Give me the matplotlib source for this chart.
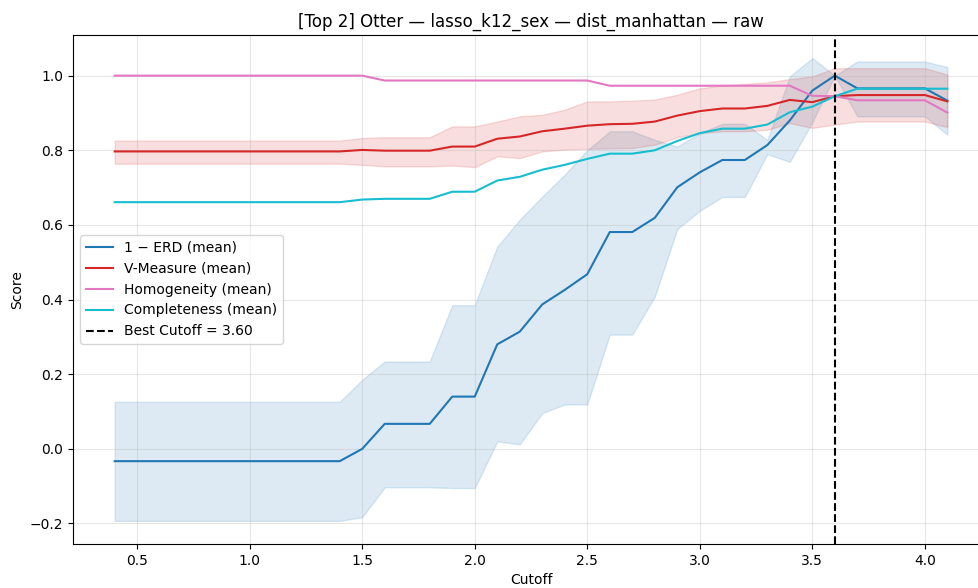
import matplotlib
matplotlib.use("Agg")
import matplotlib.pyplot as plt

cutoff = [0.4, 0.5, 0.6, 0.7, 0.8, 0.9, 1.0, 1.1, 1.2, 1.3, 1.4, 1.5, 1.6, 1.7, 1.8, 1.9,
          2.0, 2.1, 2.2, 2.3, 2.4, 2.5, 2.6, 2.7, 2.8, 2.9, 3.0, 3.1, 3.2, 3.3, 3.4, 3.5,
          3.6, 3.7, 3.8, 3.9, 4.0, 4.1]

erd_mean = [-0.033] * 11 + [0.0] + [0.067] * 3 + [0.14] * 2 + [0.28, 0.314, 0.387, 0.426, 0.468] \
    + [0.581] * 2 + [0.619, 0.701, 0.741] + [0.774] * 2 + [0.814, 0.88, 0.96, 1.0] + [0.966] * 4 + [0.933]
erd_low = [-0.193] * 11 + [-0.183] + [-0.103] * 3 + [-0.105] * 2 + [0.02, 0.012, 0.096, 0.119, 0.119] \
    + [0.306] * 2 + [0.408, 0.589, 0.638] + [0.675] * 2 + [0.79, 0.769, 0.875, 1.0] + [0.891] * 4 + [0.842]
erd_high = [0.126] * 11 + [0.185] + [0.234] * 3 + [0.385] * 2 + [0.542, 0.614, 0.676, 0.735, 0.80] \
    + [0.851] * 2 + [0.828, 0.81, 0.846] + [0.871] * 2 + [0.828, 0.998, 1.047, 1.0] + [1.038] * 4 + [1.023]

vm_mean = [0.797] * 11 + [0.801] + [0.799] * 3 + [0.81] * 2 + [0.831, 0.837, 0.851, 0.858, 0.866, 0.87, 0.871,
          0.877, 0.893, 0.905] + [0.912] * 2 + [0.919, 0.935, 0.929, 0.945] + [0.948] * 4 + [0.931]
vm_low = [0.764] * 11 + [0.761] + [0.757] * 3 + [0.759, 0.755] + [0.784, 0.779, 0.797, 0.802, 0.804, 0.805, 0.806,
         0.815, 0.835, 0.846] + [0.851] * 2 + [0.855, 0.873, 0.86, 0.869] + [0.877] * 4 + [0.862]
vm_high = [0.826] * 11 + [0.833] + [0.835] * 3 + [0.864] * 2 + [0.877, 0.891, 0.895, 0.909, 0.931, 0.931, 0.933,
          0.936, 0.949, 0.966, 0.974, 0.978, 0.982, 0.991, 0.998, 1.02] + [1.02] * 4 + [1.003]

homog = [1.0] * 12 + [0.987] * 10 + [0.973] * 9 + [0.946, 0.945] + [0.934] * 4 + [0.901]

compl = [0.661] * 11 + [0.668] + [0.670] * 3 + [0.689] * 2 + [0.719, 0.729, 0.748, 0.761, 0.777] \
    + [0.791] * 2 + [0.80, 0.825, 0.846] + [0.858] * 2 + [0.869, 0.902, 0.917, 0.945] + [0.965] * 5

best_cutoff = 3.6

fig = plt.figure(figsize=(9.79, 5.88), dpi=100)
ax = fig.add_axes([0.0746, 0.0748, 0.9356, 0.8657])

ax.plot(cutoff, erd_mean, color="tab:blue", lw=1.5, label="1 \u2212 ERD (mean)")
ax.fill_between(cutoff, erd_low, erd_high, color="tab:blue", alpha=0.15, lw=1)
ax.plot(cutoff, vm_mean, color="tab:red", lw=1.5, label="V-Measure (mean)")
ax.fill_between(cutoff, vm_low, vm_high, color="tab:red", alpha=0.15, lw=1)
ax.plot(cutoff, homog, color="tab:pink", lw=1.5, label="Homogeneity (mean)")
ax.plot(cutoff, compl, color="tab:cyan", lw=1.5, label="Completeness (mean)")
ax.axvline(best_cutoff, color="black", ls="--", lw=1.5, label=f"Best Cutoff = {best_cutoff:.2f}")

ax.set_title("[Top 2] Otter \u2014 lasso_k12_sex \u2014 dist_manhattan \u2014 raw")
ax.set_xlabel("Cutoff")
ax.set_ylabel("Score")
ax.grid(True, alpha=0.3)
ax.legend(loc="center left")

fig.savefig("out.png", dpi=100)
